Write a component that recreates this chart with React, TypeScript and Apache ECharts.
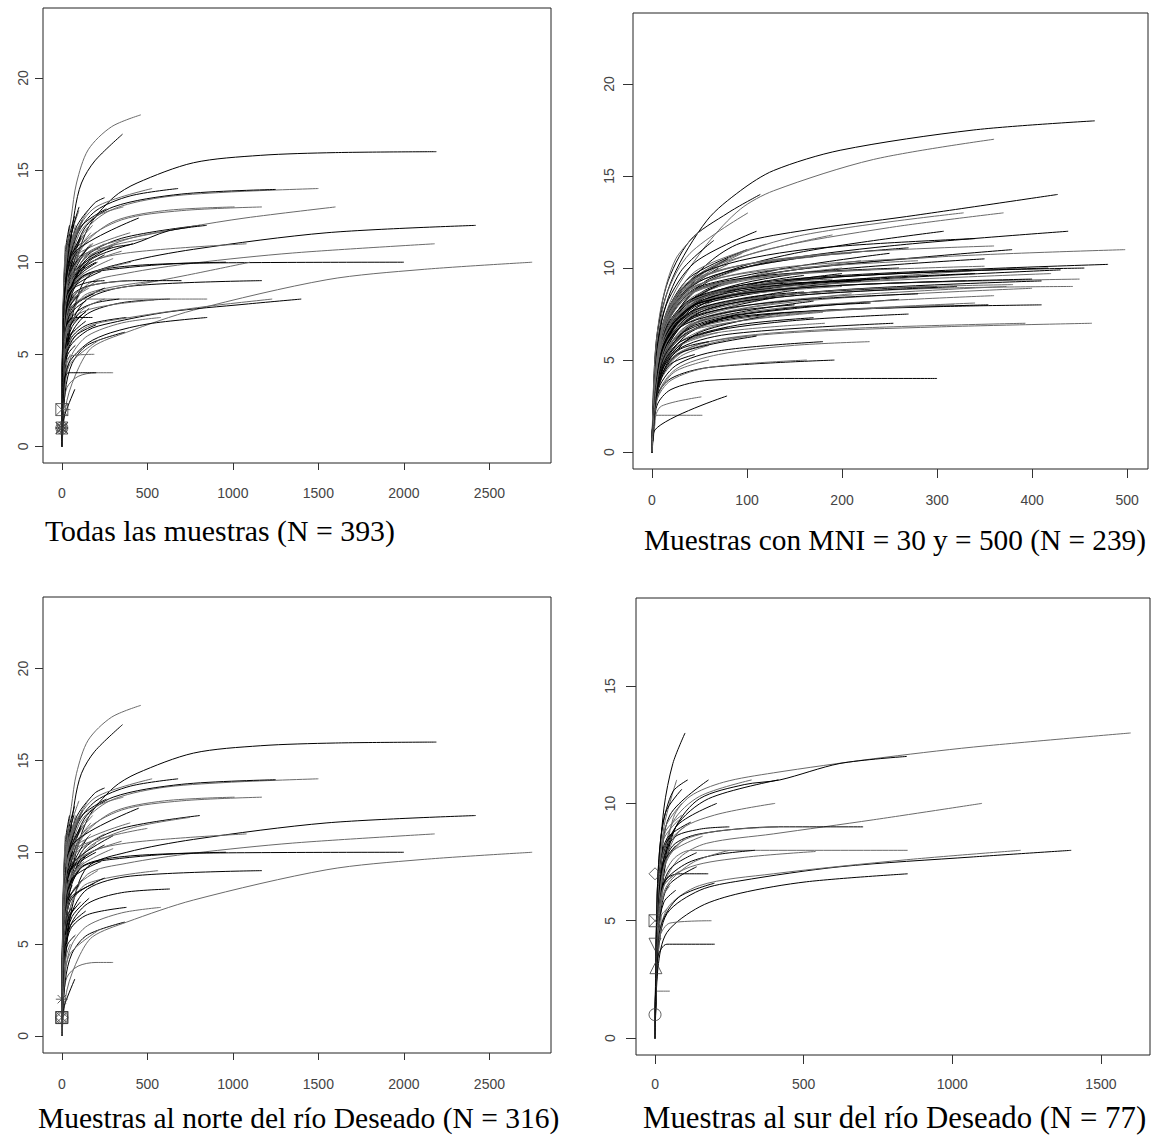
import React, { useEffect, useRef } from "react";
import * as echarts from "echarts";

// Rarefaction curves, each as flat [x0,y0,x1,y1,...] (individuals, species)
// Samples north of the río Deseado (panel 3; also part of panel 1)
const northCurves: number[][] = [
  [0,0,20,5,60,9,150,11.8,300,13.5,440,14.3,770,15.4,1160,15.8,1600,15.95,2190,16],
  [0,0,30,2.5,100,4.3,180,5.4,380,6.2,770,7.4,1550,9.05,2100,9.6,2750,10],
  [0,0,20,4,60,7,150,9.2,380,10,770,10.7,1550,11.6,2420,12],
  [0,0,15,4,50,7,150,8.8,380,9.4,770,9.95,1350,10.5,2180,11],
  [0,0,15,5,50,8,120,9.2,280,9.6,770,9.95,2000,10],
  [0,0,10,5,40,9,120,11.5,280,12.8,570,13.5,960,13.8,1500,14],
  [0,0,10,5,40,9,130,11.8,300,13,700,13.7,1250,13.95],
  [0,0,12,5,45,8,130,9.8,380,10.5,1080,11],
  [0,0,15,4,50,6.5,150,8,400,8.7,1170,9],
  [0,0,10,5,40,8.5,120,10.8,300,12.2,600,12.8,1010,13],
  [0,0,12,5,40,8,130,10.2,350,11.3,807,12],
  [0,0,12,5,45,8,150,10.2,400,11.3,750,11.9],
  [0,0,8,5,30,9,90,11.5,200,12.8,400,13.6,680,14],
  [0,0,8,5,30,9,80,11.5,200,13,528,14],
  [0,0,15,4,50,6,150,7.2,350,7.8,632,8],
  [0,0,20,3.5,60,5,150,6,350,6.7,579,7],
  [0,0,15,4,50,5.8,150,6.6,378,7],
  [0,0,10,2,30,3.2,95,3.8,200,4,300,4],
  [0,0,5,1.2,20,1.8,76,3.1],
  [0,0,5,4,18,9.8,56,12.5,86,14.3,154,16.1,290,17.35,462,18],
  [0,0,6,4,25,9,76,12.8,115,14.3,193,15.5,355,16.95],
  [0,0,8,5,30,9,100,11.5,200,12.5,360,13],
  [0,0,8,5,30,9,100,11.8,261,12.9],
  [0,0,15,4,50,7,150,8.3,563,9],
  [0,0,20,3,60,4.5,150,5.5,368,6.2],
  [0,0,15,3,50,4.5,222,5.8],
  [0,0,12,5,40,8,130,9.3,400,9.8,960,10],
  [0,0,10,5,40,8.8,120,11,350,12.3,700,12.8,1170,13],
  [0,0,7,5,25,9.2,80,11.8,190,13.2,250,13.5],
  [0,0,5,4,15,7,40,9.5,90,11],
  [0,0,5,3.5,15,6,40,8,100,9.5],
  [0,0,6,4,20,7,60,9,150,10.5],
  [0,0,4,3,12,5.5,40,7.5,120,8.5],
  [0,0,5,4,15,7.5,50,10,130,11.5],
  [0,0,6,3,20,5,60,6.5,160,7.5],
  [0,0,4,4,12,7,35,10,80,12],
  [0,0,5,3,15,5,45,6.5,110,7.3],
  [0,0,5,4,15,7,45,9,200,10.5],
  [0,0,4,3.5,12,6.5,30,8.5,70,10],
  [0,0,6,4,20,7.5,70,9.8,250,11],
  [0,0,5,3,18,5.5,60,7.5,250,8.6],
  [0,0,3,3,10,6,25,8.5,50,10],
  [0,0,4,3,12,5,30,6.5,60,7],
  [0,0,5,4,18,8,60,10.5,180,12],
  [0,0,4,2.5,12,4,35,5,80,5.5],
  [0,0,3,2.5,10,5,25,7,45,8],
  [0,0,5,4.5,15,8,45,10.5,120,12.3],
  [0,0,6,3.5,20,6,70,8,210,9],
  [0,0,4,3,15,6,50,8.5,140,9.8],
  [0,0,3,2,10,4,30,5.5,60,6],
  [0,0,4,3.5,12,6.5,35,8.8,90,10.5],
  [0,0,5,4,16,7,50,9.5,170,11],
  [0,0,3,3,8,5,20,7,40,8.5],
  [0,0,4,2,12,3.5,30,4.5,50,5],
  [0,0,5,4,14,7,40,9.5,110,11.3],
  [0,0,6,3.5,20,6.5,80,9,300,10.2],
  [0,0,5,3,15,5.5,50,7.5,190,8.3],
  [0,0,3,2.5,10,4.5,25,6,40,6.5],
  [0,0,4,4,12,7,30,9,60,10],
  [0,0,5,4.5,15,8.5,40,11,100,12.8],
  [0,0,4,3,12,5.5,40,7.5,100,8.2],
  [0,0,3,2,8,3.5,20,4.8,30,5],
  [0,0,5,3.5,16,6,55,8.5,230,9.5],
  [0,0,6,4,20,7,60,8.8,130,9.5],
  [0,0,4,3,12,6,35,8.7,150,10.8],
  [0,0,3,3,9,5.5,22,7.5,35,8],
  [0,0,5,2.5,15,4.5,50,6,140,6.8],
  [0,0,4,4,12,7.5,35,10.2,100,11.8],
  [0,0,5,3,15,5,40,6.5,80,7],
  [0,0,2,2,5,3.5,12,5,20,5.5],
  [0,0,3,3,8,5.5,18,7.5,30,9],
  [0,0,2,2,6,4,12,6,20,7],
  [0,0,3,2.5,8,4.5,15,6,25,6.5],
  [0,0,4,3.5,10,6.5,25,9,45,10.5],
  [0,0,3,4,10,7,25,9.5,50,11],
  [0,0,3,3.5,9,6.5,22,9,45,10.2],
  [0,0,4,4.5,12,8,30,10.5,70,12],
  [0,0,2,3,7,6,18,8.5,35,9.8],
  [0,0,3,4,10,7.5,28,10,60,11.5],
  [0,0,4,3.8,12,7,35,9.5,90,10.8],
  [0,0,3,3.2,10,6,30,8.4,80,9.6],
  [0,0,2,2.5,6,5,15,7.3,30,8.8],
  [0,0,3,4.2,10,7.8,30,10.8,75,12.5],
  [0,0,4,4,14,7.3,45,9.8,150,11.2],
  [0,0,3,3,10,5.6,30,7.8,100,9],
  [0,0,2,3.5,6,6.5,15,9,30,10.8],
  [0,0,3,3.6,9,6.8,24,9.3,55,10.6],
  [0,0,4,4.4,13,7.9,40,10.6,120,12.2],
  [0,0,3,3,9,5.5,25,7.6,60,8.6],
  [0,0,5,4.2,16,7.6,50,10,170,11.6],
  [0,0,3,2.8,9,5.2,25,7.2,60,8.2],
  [0,0,4,3.9,12,7.2,35,9.6,85,11],
  [0,0,2,2.2,6,4.4,14,6.4,25,7.5],
  [0,0,3,3.8,10,7.2,30,9.9,90,11.9],
  [0,0,5,3.8,16,6.8,50,9,200,10],
  [0,0,4,3.4,13,6.2,40,8.4,130,9.4],
  [0,0,3,4.4,9,8,22,10.7,45,12],
  [0,0,5,4.6,16,8.3,50,11,160,12.9],
  [0,0,4,3.6,14,6.6,45,9,250,10.4],
  [0,0,3,2.6,9,4.8,22,6.6,40,7.4],
  [0,0,4,4.1,12,7.4,35,9.8,110,11.4],
  [0,0,5,4,18,7.2,60,9.4,350,10.6],
  [0,0,4,3.7,14,6.9,45,9.2,300,10.9],
  [0,0,5,4.3,18,7.9,60,10.2,400,11.6],
  [0,0,6,4.5,20,8.2,70,10.5,450,12.4],
  [0,0,5,4.4,18,8,60,10.1,500,11.3],
  [0,0,1,1.5,3,4,6,6.5,12,8.5],
  [0,0,1,1.8,3,4.5,8,7.5,15,9.5],
  [0,0,1,1.5,4,4.2,10,7,20,9],
  [0,0,2,2.5,5,5,12,7.8,25,9.8],
  [0,0,1,1.6,3,3.8,8,6.3,16,8],
  [0,0,2,3,5,5.8,12,8.6,22,10.6],
  [0,0,1,2,4,5,9,7.6,18,9.9],
  [0,0,2,2.4,6,4.6,14,6.8,28,8.3],
  [0,0,1,1.7,3,4.1,7,6.4,14,8.3],
  [0,0,2,2.8,6,5.6,14,8.2,30,10.3],
  [0,0,1,1.4,3,3.3,7,5.2,12,6.3],
  [0,0,2,3.2,5,6.2,11,8.8,20,10.9],
  [0,0,1,1.9,4,4.8,10,7.4,20,9.4],
  [0,0,2,2.6,6,5.2,15,7.8,35,9.6],
  [0,0,1,1.5,3,3.6,6,5.3,10,6.5],
  [0,0,2,3,6,6,15,8.8,40,11.4],
  [0,0,1,2,4,4.6,11,7.2,25,9.2],
  [0,0,2,2.9,6,5.5,16,8.1,45,10],
];

// Samples south of the río Deseado (panel 4; also part of panel 1)
const southCurves: number[][] = [
  [0,0,10,4,30,7,62,9.4,118,10.3,230,10.9,398,11.3,734,11.9,1071,12.4,1600,13],
  [0,0,10,4,30,7,70,9,150,10.2,300,10.8,420,11,622,11.7,847,12],
  [0,0,8,4,30,6.5,84,7.7,174,8.3,398,8.7,734,9.3,1100,10],
  [0,0,8,4,25,7,60,8.2,150,8.7,415,9,700,9],
  [0,0,6,4,20,6.5,60,7.6,120,8,850,8],
  [0,0,10,3.5,40,5.3,151,6.3,286,6.7,622,7.3,1071,7.72,1400,8],
  [0,0,10,3.5,40,5.5,150,6.5,398,7,847,7.6,1230,8],
  [0,0,10,3,40,4.5,151,5.6,286,6.17,510,6.66,850,7],
  [0,0,8,4,30,6.5,120,7.3,300,7.7,540,7.95],
  [0,0,8,4,25,7,70,9,180,10.2,415,11],
  [0,0,6,4,20,7,60,9.2,150,10.3,325,11],
  [0,0,5,4,18,7,50,9.5,180,11],
  [0,0,3,3,10,6,30,9,73,11],
  [0,0,3,3,10,6.5,30,9.8,60,11.7,101,13],
  [0,0,7,4,25,7,80,8.8,200,9.5,404,10],
  [0,0,6,4,20,7,70,9,208,10],
  [0,0,7,4,25,7,80,8.3,200,8.8,415,9],
  [0,0,5,4,15,6,40,6.8,80,7,179,7],
  [0,0,5,3,15,4.3,50,4.9,190,5],
  [0,0,3,2.5,10,3.5,40,4,201,4],
  [0,0,5,2,50,2],
  [0,0,7,4,25,6.5,100,7.4,200,7.8,336,8],
  [0,0,0,1],
  [0,0,6,4,20,7,60,8.5,150,8.9,250,9],
  [0,0,4,3,12,5.5,35,7.5,100,8.5],
  [0,0,5,3,15,5,45,6.5,140,7.3],
  [0,0,4,4,12,7,35,8.8,90,9.5],
  [0,0,3,2.5,10,4.5,30,5.8,70,6.3],
  [0,0,5,3.5,15,6,45,7.8,160,8.6],
  [0,0,3,3,8,5.5,20,7.5,45,8.5],
  [0,0,4,3,10,5,25,6,50,6.5],
  [0,0,6,3,20,4.8,80,6,200,6.6],
  [0,0,3,2.5,8,4,20,5.2,40,5.5],
  [0,0,5,4,15,7,40,8.5,120,9.2],
  [0,0,4,3,12,5,40,6.5,130,7.5,250,8],
  [0,0,3,3.5,10,7,25,9,60,10.5,110,11],
  [0,0,3,3.8,10,6.8,30,8.5,80,9.3],
  [0,0,3,3,10,5.8,30,7.5,70,8.2],
  [0,0,4,4.2,12,7.2,35,9,90,10],
  [0,0,3,3.4,10,6.2,28,8,55,8.7],
  [0,0,4,3.6,12,6.5,35,8.2,100,9],
  [0,0,5,3.4,16,5.8,50,7.2,140,7.9],
  [0,0,3,2.8,10,5,30,6.5,80,7.1],
  [0,0,4,4,12,7.4,35,9.6,90,10.6],
];

// Samples with MNI between 30 and 500 (panel 2)
const midCurves: number[][] = [
  [0,0,5,6.3,22,9.5,58,12.6,93,14.2,128,15.3,198,16.4,338,17.5,466,18],
  [0,0,5,5.5,22,8.5,58,11.3,93,13.2,128,14.2,233,15.9,360,17],
  [0,0,5,5,25,8.3,60,10.3,93,11.35,163,12.07,268,12.8,427,14],
  [0,0,5,5,25,8,60,9.8,120,11,250,12.2,370,13],
  [0,0,5,4.5,25,7.5,60,9.3,120,10.3,250,11.2,438,12],
  [0,0,5,4.5,25,7.2,60,8.8,150,9.9,300,10.6,498,11],
  [0,0,5,4.3,25,7,60,8.4,150,9.3,300,9.8,455,10],
  [0,0,5,4,25,6.5,60,7.7,150,8.5,300,8.9,443,9],
  [0,0,5,3.8,25,6,60,7,150,7.6,300,7.9,410,8],
  [0,0,5,3.5,25,5.2,60,6,150,6.5,300,6.8,463,7],
  [0,0,5,2.5,20,3.4,60,3.9,150,4,300,4],
  [0,0,5,3,25,4.5,70,5.3,150,5.8,229,6],
  [0,0,5,3,20,4,60,4.6,192,5],
  [0,0,5,3.8,25,5.7,70,6.5,182,7],
  [0,0,5,4,25,6.2,70,7.2,180,7.7,354,8],
  [0,0,5,3.5,25,5.3,80,6.2,200,6.7,393,7],
  [0,0,5,3.6,25,5.5,80,6.4,254,7],
  [0,0,3,1.5,5,2,53,2],
  [0,0,3,1.2,79,3.05],
  [0,0,3,1.8,10,2.5,52,3],
  [0,0,4,5.5,15,9,40,11.5,80,13,114,14],
  [0,0,4,5,15,8.5,40,10.8,101,13],
  [0,0,4,5,15,8,45,10.3,110,12],
  [0,0,3,5,10,8,25,10.5,50,12],
  [0,0,5,4.5,25,7.5,60,9.4,150,10.8,307,12],
  [0,0,5,5,25,8,60,10,150,11.7,328,13],
  [0,0,5,4.5,25,7.3,60,8.9,150,9.9,379,11],
  [0,0,5,4.2,25,6.8,60,8.2,150,9.1,384,10],
  [0,0,5,4.4,25,7,60,8.5,160,9.4,417,10],
  [0,0,5,4,25,6.3,60,7.5,150,8.3,373,9],
  [0,0,5,4,25,6.5,60,7.8,150,8.5,321,9],
  [0,0,5,3.8,25,5.8,70,6.9,170,7.6,318,8],
  [0,0,5,3.2,25,4.7,70,5.5,180,6],
  [0,0,5,2.8,20,3.9,60,4.6,163,5],
  [0,0,5,4.3,25,6.9,70,8.4,180,9.2,430,9.9],
  [0,0,5,4,25,6.2,70,7.5,180,8.3,400,8.9],
  [0,0,5,4.4,25,7.2,70,8.8,170,9.8,350,10.5],
  [0,0,5,4.2,25,6.8,70,8.3,160,9,280,9.5],
  [0,0,5,3.8,25,6,70,7.2,150,7.8,260,8.3],
  [0,0,5,4.5,25,7.4,70,9,200,10],
  [0,0,4,4,12,6.5,30,8.5,70,10],
  [0,0,4,3.5,12,5.5,30,7,60,8],
  [0,0,5,3,15,5,40,6.5,90,7.5],
  [0,0,3,3,10,5.5,25,7.5,50,9],
  [0,0,4,4.5,15,7.5,40,9.5,100,11],
  [0,0,4,3,12,4.8,35,6,80,6.8],
  [0,0,5,3.5,15,6,45,8,120,9.3],
  [0,0,3,2.5,10,4,30,5.2,60,5.8],
  [0,0,4,4,12,6.8,35,9,80,10.5],
  [0,0,5,4,15,6.5,45,8.5,140,10],
  [0,0,3,3.5,10,6,25,8,45,9.3],
  [0,0,4,3,12,5,35,6.8,100,7.8],
  [0,0,5,3,18,5,50,6.5,130,7.5],
  [0,0,3,2.8,10,4.5,30,5.8,70,6.5],
  [0,0,4,4.5,12,7.5,30,9.8,65,11.5],
  [0,0,5,4,15,6.8,40,8.8,110,10.2],
  [0,0,4,3.2,12,5.3,40,7.2,130,8.4],
  [0,0,3,3,10,5,30,6.8,90,8],
  [0,0,5,3.8,18,6.5,55,8.5,160,9.6],
  [0,0,4,2.8,12,4.3,35,5.5,100,6.3],
  [0,0,3,2.5,8,3.8,20,4.8,45,5.3],
  [0,0,4,4,14,7,40,9.2,95,10.8],
  [0,0,5,3.5,15,5.8,45,7.6,150,8.8],
  [0,0,3,3.2,10,5.6,28,7.6,60,8.8],
  [0,0,4,3.7,14,6.2,45,8,140,9],
  [0,0,5,4.2,16,7.2,50,9.3,160,10.6],
  [0,0,4,3,12,4.6,30,5.6,60,6],
  [0,0,3,3.4,10,6.2,30,8.6,80,10.2],
  [0,0,4,3,14,5.2,45,7,170,8.2],
  [0,0,5,4.5,18,7.8,60,10,190,11.8],
  [0,0,4,3.6,14,6.3,45,8.3,200,9.7],
  [0,0,5,3.3,18,5.6,60,7.4,210,8.6],
  [0,0,4,3.5,12,6,35,8,75,9.2],
  [0,0,3,2.2,9,3.4,25,4.4,60,5],
  [0,0,5,4,16,7,50,9,250,10.8],
  [0,0,4,3.8,13,6.6,40,8.7,220,10.4],
  [0,0,5,3.6,16,6.1,50,8,230,9.4],
  [0,0,4,3,13,5,40,6.6,180,7.6],
  [0,0,3,2.6,10,4.2,30,5.4,110,6.3],
  [0,0,5,4.2,16,7.4,45,9.8,120,11.3],
  [0,0,4,4,15,7,45,8.8,120,9.6,260,10],
  [0,0,4,4.2,15,7.2,45,9,130,10,300,10.6],
  [0,0,4,3.8,15,6.4,45,8,150,8.9,330,9.3],
  [0,0,5,4.3,18,7.3,50,8.9,160,9.7,350,10.1],
  [0,0,4,3.6,15,6,45,7.4,140,8.2,280,8.6],
  [0,0,5,4.1,18,6.9,55,8.4,170,9.1,420,9.7],
  [0,0,4,4,15,6.8,45,8.4,140,9.1,240,9.4],
  [0,0,4,3.4,15,5.6,45,7,150,7.9,360,8.5],
  [0,0,5,4.4,18,7.6,55,9.4,150,10.5,270,11.1],
  [0,0,4,3.9,15,6.6,45,8.1,120,8.7,200,9],
  [0,0,3,3.5,12,6.2,35,8,100,9,220,9.3],
  [0,0,4,3.8,15,6.5,50,8.2,170,9,450,9.4],
  [0,0,5,4.6,18,7.9,55,9.8,160,11,340,11.6],
  [0,0,4,3.2,15,5.3,50,6.8,160,7.6,340,8.1],
  [0,0,5,4.2,18,7,55,8.6,170,9.5,480,10.2],
  [0,0,4,4,15,6.9,45,8.7,130,9.6,230,9.9],
  [0,0,4,3.6,15,6.2,50,7.8,150,8.6,300,9],
  [0,0,3,3.9,12,7,35,9,90,10.1,170,10.6],
  [0,0,4,3.3,15,5.8,50,7.6,170,8.7,410,9.3],
  [0,0,5,4.5,18,7.7,55,9.6,170,10.7,360,11.2],
  [0,0,3,3,10,5.2,30,6.8,80,7.6,150,8],
  [0,0,4,3.7,14,6.4,40,8.2,110,9.1,190,9.4],
  [0,0,4,3.1,14,5.3,45,6.9,140,7.8,230,8.1],
  [0,0,3,3.4,10,5.9,30,7.8,80,8.8,130,9.1],
  [0,0,5,3.9,18,6.6,55,8.2,180,9,400,9.4],
  [0,0,4,4.3,14,7.4,40,9.3,120,10.4,210,10.8],
  [0,0,4,2.9,14,4.9,45,6.3,140,7.1,270,7.5],
  [0,0,3,3.7,10,6.4,30,8.3,70,9.2],
  [0,0,3,2.7,10,4.6,30,6,90,6.9,170,7.3],
  [0,0,4,4.1,14,7.1,40,8.9,110,9.8,280,10.4],
  [0,0,5,4,18,6.7,55,8.3,160,9.2,340,9.7],
  [0,0,3,3.3,10,5.7,30,7.3,75,8.1,120,8.4],
  [0,0,4,3.5,14,6,40,7.6,100,8.4,160,8.7],
  [0,0,5,3.7,18,6.2,60,7.9,200,8.8,380,9.1],
];

// Single-point samples drawn as R plotting symbols: [x, y, pch]
const markersAll: number[][] = [[0,2,7],[0,1,1],[0,1,2],[0,1,3],[0,1,4],[0,1,5],[0,1,6],[0,1,8]];
const markersNorth: number[][] = [[0,2,8],[0,1,0],[0,1,7],[0,1,1],[0,1,5]];
const markersSouth: number[][] = [[0,1,1],[3,3,2],[0,4,6],[0,5,7],[0,7,5]];

const xTicksWide = [0, 500, 1000, 1500, 2000, 2500];
const xTicksMid = [0, 100, 200, 300, 400, 500];
const xTicksSouth = [0, 500, 1000, 1500];
const yTicks = [0, 5, 10, 15, 20];
const yTicksSouth = [0, 5, 10, 15];

const captions = [
  "Todas las muestras (N = 393)",
  "Muestras con MNI = 30 y = 500 (N = 239)",
  "Muestras al norte del río Deseado (N = 316)",
  "Muestras al sur del río Deseado (N = 77)",
];

const pchSymbols: Record<number, string> = {
  0: "rect",
  1: "circle",
  2: "triangle",
  3: "path://M5,0L5,10M0,5L10,5",
  4: "path://M0,0L10,10M10,0L0,10",
  5: "diamond",
  6: "path://M0,0L10,0L5,9Z",
  7: "path://M0,0L10,0L10,10L0,10ZM0,0L10,10M10,0L0,10",
  8: "path://M5,0L5,10M0,5L10,5M1.5,1.5L8.5,8.5M8.5,1.5L1.5,8.5",
};

function curveSeries(curves: number[][], idx: number, offset: number) {
  return curves.map((c, i) => {
    const pts: number[][] = [];
    for (let k = 0; k < c.length; k += 2) pts.push([c[k], c[k + 1]]);
    return {
      type: "line",
      xAxisIndex: idx,
      yAxisIndex: idx,
      data: pts,
      symbol: "none",
      showSymbol: false,
      smooth: 0.3,
      silent: true,
      lineStyle: { width: 1, color: (i + offset) % 2 ? "#6a6a6a" : "#000000" },
      z: 2,
    };
  });
}

function markerSeries(markers: number[][], idx: number) {
  return {
    type: "scatter",
    xAxisIndex: idx,
    yAxisIndex: idx,
    data: markers,
    symbol: (v: number[]) => pchSymbols[v[2]],
    symbolSize: 12,
    silent: true,
    itemStyle: { color: "transparent", borderColor: "#3a3a3a", borderWidth: 1 },
    z: 3,
  };
}

const tickFont = { fontFamily: "Liberation Sans, Arial, sans-serif", fontSize: 14, color: "#444" };

function xAxisCfg(idx: number, min: number, max: number, ticks: number[], margin: number, tickLen: number) {
  return {
    type: "value",
    gridIndex: idx,
    min,
    max,
    axisLine: { show: false, onZero: false },
    splitLine: { show: false },
    axisTick: { show: true, length: tickLen, customValues: ticks, lineStyle: { color: "#333" } },
    axisLabel: { show: true, customValues: ticks, margin, formatter: (v: number) => String(v), ...tickFont },
  };
}

function yAxisCfg(idx: number, min: number, max: number, ticks: number[], margin: number, tickLen: number) {
  return {
    type: "value",
    gridIndex: idx,
    min,
    max,
    axisLine: { show: false, onZero: false },
    splitLine: { show: false },
    axisTick: { show: true, length: tickLen, customValues: ticks, lineStyle: { color: "#333" } },
    axisLabel: { show: true, customValues: ticks, margin, rotate: 90, formatter: (v: number) => String(v), ...tickFont },
  };
}

export default function App() {
  const ref = useRef<HTMLDivElement>(null);
  useEffect(() => {
    if (!ref.current) return;
    const chart = echarts.init(ref.current, undefined, { renderer: "svg" });
    const gridStyle = { show: true, borderColor: "#222", borderWidth: 1, backgroundColor: "transparent" };
    const capFont = (s: number) => `${s}px 'Liberation Serif', 'Times New Roman', serif`;
    chart.setOption({
      animation: false,
      backgroundColor: "#ffffff",
      grid: [
        { left: 43, top: 8, width: 508, height: 455, ...gridStyle },
        { left: 633, top: 13, width: 515, height: 456, ...gridStyle },
        { left: 43, top: 597, width: 508, height: 456, ...gridStyle },
        { left: 636, top: 598, width: 514, height: 457, ...gridStyle },
      ],
      xAxis: [
        xAxisCfg(0, -110, 2860, xTicksWide, 23, 7),
        xAxisCfg(1, -20, 522, xTicksMid, 24, 9),
        xAxisCfg(2, -110, 2860, xTicksWide, 24, 7),
        xAxisCfg(3, -64, 1665, xTicksSouth, 22, 9),
      ],
      yAxis: [
        yAxisCfg(0, -0.9, 23.8, yTicks, 13, 8),
        yAxisCfg(1, -0.92, 23.86, yTicks, 17, 10),
        yAxisCfg(2, -0.93, 23.9, yTicks, 13, 8),
        yAxisCfg(3, -0.72, 18.75, yTicksSouth, 19, 10),
      ],
      series: [
        ...curveSeries(northCurves, 0, 0),
        ...curveSeries(southCurves, 0, 1),
        markerSeries(markersAll, 0),
        ...curveSeries(midCurves, 1, 0),
        ...curveSeries(northCurves, 2, 0),
        markerSeries(markersNorth, 2),
        ...curveSeries(southCurves, 3, 1),
        markerSeries(markersSouth, 3),
      ],
      graphic: [
        { type: "text", x: 45, y: 530, style: { text: captions[0], font: capFont(29.8), fill: "#000", textVerticalAlign: "middle" } },
        { type: "text", x: 1146, y: 540, style: { text: captions[1], font: capFont(29.3), fill: "#000", textAlign: "right", textVerticalAlign: "middle" } },
        { type: "text", x: 38, y: 1118, style: { text: captions[2], font: capFont(29.5), fill: "#000", textVerticalAlign: "middle" } },
        { type: "text", x: 643, y: 1118, style: { text: captions[3], font: capFont(30.8), fill: "#000", textVerticalAlign: "middle" } },
      ],
    });
    return () => chart.dispose();
  }, []);
  return <div ref={ref} style={{ position: "absolute", left: 0, top: 0, width: 1156, height: 1136 }} />;
}
